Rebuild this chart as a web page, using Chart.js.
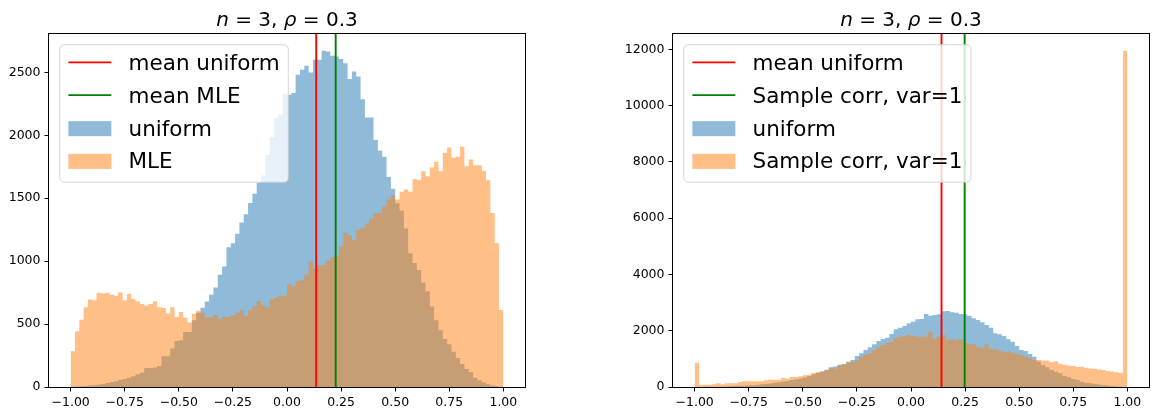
<!DOCTYPE html>
<html>
<head>
<meta charset="utf-8">
<script src="https://cdn.jsdelivr.net/npm/chart.js@4.4.1/dist/chart.umd.min.js"></script>
<style>
  html, body { margin: 0; padding: 0; background: #ffffff; }
  #wrap { position: relative; width: 1154px; height: 414px; overflow: hidden; }
  canvas { position: absolute; top: 0; }
  #histLeft { left: 0; }
  #histRight { left: 577px; }
</style>
</head>
<body>
<div id="wrap">
  <canvas id="histLeft" width="577" height="414"></canvas>
  <canvas id="histRight" width="577" height="414"></canvas>
</div>
<script>
// Histogram binning: 100 bins of width 0.02 on [-1, 1]
const binStart = -1;
const binWidth = 0.02;

// Axis ticks
const xTicks = [-1, -0.75, -0.5, -0.25, 0, 0.25, 0.5, 0.75, 1];
const yTicksLeft = [0, 500, 1000, 1500, 2000, 2500];
const yTicksRight = [0, 2000, 4000, 6000, 8000, 10000, 12000];

// Left panel: counts per bin
const uniformLeft = [
  2, 3, 5, 8, 11, 13, 19, 24, 32, 40,
  45, 58, 64, 74, 85, 101, 114, 151, 151, 154,
  167, 244, 244, 305, 366, 371, 437, 437, 530, 590,
  630, 679, 732, 790, 891, 957, 1111, 1143, 1217, 1307,
  1373, 1461, 1535, 1625, 1681, 1845, 1986, 2137, 2163, 2330,
  2322, 2336, 2480, 2520, 2552, 2499, 2600, 2600, 2671, 2666,
  2631, 2626, 2605, 2573, 2448, 2507, 2467, 2286, 2142, 2142,
  1962, 1877, 1829, 1669, 1576, 1460, 1400, 1260, 1062, 985,
  930, 830, 760, 640, 530, 450, 382, 340, 280, 230,
  183, 143, 117, 73, 53, 35, 21, 12, 6, 2
];
const mleLeft = [
  285, 443, 535, 634, 695, 689, 748, 742, 748, 732,
  724, 750, 689, 740, 700, 682, 660, 647, 660, 682,
  634, 628, 583, 634, 557, 596, 551, 512, 581, 605,
  591, 551, 557, 573, 538, 557, 557, 573, 589, 610,
  562, 610, 642, 684, 650, 631, 697, 710, 724, 724,
  817, 803, 843, 848, 896, 997, 938, 965, 970, 1005,
  1031, 1037, 1121, 1225, 1206, 1166, 1246, 1265, 1299, 1339,
  1379, 1384, 1437, 1490, 1524, 1490, 1551, 1569, 1551, 1652,
  1644, 1715, 1675, 1744, 1789, 1715, 1861, 1903, 1821, 1829,
  1908, 1754, 1807, 1762, 1762, 1717, 1643, 1382, 1143, 611
];
const meansLeft = [0.135, 0.225];
const labelsLeft = ['mean uniform', 'mean MLE', 'uniform', 'MLE'];

// Right panel: counts per bin
const uniformRight = [
  2, 3, 5, 7, 10, 12, 18, 22, 28, 33,
  40, 44, 50, 65, 80, 95, 110, 125, 150, 170,
  195, 215, 245, 275, 300, 335, 390, 450, 500, 560,
  610, 699, 730, 790, 818, 900, 960, 1102, 1197, 1315,
  1410, 1517, 1635, 1706, 1754, 1884, 2050, 2109, 2169, 2263,
  2323, 2406, 2417, 2595, 2536, 2560, 2583, 2690, 2700, 2654,
  2643, 2595, 2583, 2536, 2441, 2382, 2299, 2204, 2109, 1908,
  1872, 1813, 1695, 1612, 1458, 1315, 1280, 1173, 1078, 901,
  782, 699, 604, 545, 486, 391, 344, 284, 249, 190,
  154, 130, 107, 85, 65, 50, 35, 22, 10, 3
];
const sampleCorrRight = [
  860, 71, 83, 83, 95, 130, 95, 130, 130, 130,
  178, 201, 201, 201, 201, 201, 237, 261, 261, 261,
  332, 296, 355, 355, 379, 415, 438, 498, 533, 533,
  593, 675, 652, 770, 806, 853, 889, 960, 1078, 1150,
  1197, 1315, 1410, 1493, 1560, 1600, 1754, 1789, 1813, 1849,
  1813, 1789, 1789, 1789, 1967, 1730, 1789, 1849, 1671, 1695,
  1671, 1695, 1552, 1529, 1529, 1434, 1375, 1517, 1339, 1339,
  1292, 1256, 1256, 1221, 1173, 1138, 1078, 1019, 960, 960,
  940, 940, 880, 910, 830, 795, 760, 747, 715, 720,
  680, 660, 650, 620, 600, 570, 550, 520, 500, 11950
];
const meansRight = [0.141, 0.248];
const labelsRight = ['mean uniform', 'Sample corr, var=1', 'uniform', 'Sample corr, var=1'];

// Colours
const BLUE_FILL = 'rgba(31,119,180,0.5)';
const ORANGE_FILL = 'rgba(255,127,14,0.5)';
const RED = '#ff0000';
const GREEN = '#008000';
const FONT = "'DejaVu Sans', sans-serif";

Chart.defaults.font.family = FONT;

// Step outline of a histogram: one point per bin left edge, plus the closing right edge
function stepPoints(counts) {
  const pts = counts.map((c, i) => ({ x: binStart + i * binWidth, y: c }));
  pts.push({ x: binStart + counts.length * binWidth, y: counts[counts.length - 1] });
  return pts;
}

function fmtX(v) {
  const s = Math.abs(v).toFixed(2);
  return v < 0 ? '\u2212' + s : s;
}

// Black box around the plotting area
const framePlugin = {
  id: 'frame',
  afterDatasetsDraw(chart) {
    const { ctx, chartArea: a } = chart;
    ctx.save();
    ctx.strokeStyle = '#000';
    ctx.lineWidth = 1;
    const l = Math.round(a.left) - 0.5, t = Math.round(a.top) - 0.5;
    const r = Math.round(a.right) + 0.5, b = Math.round(a.bottom) + 0.5;
    ctx.strokeRect(l, t, r - l, b - t);
    ctx.restore();
  }
};

// Title with italic symbols: n = 3, rho = 0.3
const titlePlugin = {
  id: 'mathTitle',
  afterDraw(chart, args, o) {
    const { ctx, chartArea: a } = chart;
    const parts = o.parts;
    ctx.save();
    ctx.fillStyle = '#000';
    ctx.textBaseline = 'alphabetic';
    ctx.textAlign = 'left';
    let total = 0;
    const widths = parts.map(p => {
      ctx.font = (p.italic ? 'oblique ' : '') + o.size + 'px ' + FONT;
      const w = ctx.measureText(p.text).width;
      total += w;
      return w;
    });
    let x = (a.left + a.right) / 2 - total / 2;
    const y = a.top - o.gap;
    parts.forEach((p, i) => {
      ctx.font = (p.italic ? 'oblique ' : '') + o.size + 'px ' + FONT;
      ctx.fillText(p.text, x, y);
      x += widths[i];
    });
    ctx.restore();
  }
};

// Framed legend in the upper-left corner of the plotting area
const boxLegendPlugin = {
  id: 'boxLegend',
  afterDraw(chart, args, o) {
    const { ctx, chartArea: a } = chart;
    const fs = o.fontSize;
    const pad = 0.4 * fs, hl = 2.0 * fs, htp = 0.8 * fs, sp = 0.5 * fs, rowH = o.rowHeight;
    const items = chart.data.datasets.map(d => ({ label: d.label, kind: d.legendKind, color: d.legendColor }));
    ctx.save();
    ctx.font = fs + 'px ' + FONT;
    const textW = Math.max(...items.map(it => ctx.measureText(it.label).width));
    const w = pad + hl + htp + textW + pad;
    const h = 2 * pad + items.length * rowH + (items.length - 1) * sp;
    const x0 = a.left + 0.5 * fs, y0 = a.top + 0.5 * fs;
    const rad = 0.2 * fs;
    ctx.beginPath();
    ctx.roundRect(x0, y0, w, h, rad);
    ctx.fillStyle = 'rgba(255,255,255,0.8)';
    ctx.fill();
    ctx.lineWidth = 1;
    ctx.strokeStyle = 'rgba(204,204,204,0.8)';
    ctx.stroke();
    items.forEach((it, k) => {
      const cy = y0 + pad + 9 + k * (rowH + sp);
      const hx = x0 + pad;
      if (it.kind === 'line') {
        ctx.beginPath();
        ctx.moveTo(hx, cy);
        ctx.lineTo(hx + hl, cy);
        ctx.strokeStyle = it.color;
        ctx.lineWidth = 1.9;
        ctx.stroke();
      } else {
        ctx.fillStyle = it.color;
        ctx.fillRect(hx, cy - 6.7, hl, 0.7 * fs);
      }
      ctx.fillStyle = '#000';
      ctx.textBaseline = 'alphabetic';
      ctx.textAlign = 'left';
      ctx.fillText(it.label, hx + hl + htp, cy + 7.7);
    });
    ctx.restore();
  }
};

function makeHistogram(canvasId, cfg) {
  const yMax = 1.05 * Math.max(...cfg.blue, ...cfg.orange);
  const tickFont = { family: FONT, size: 12.5 };
  const datasets = [
    {
      label: cfg.labels[0], legendKind: 'line', legendColor: RED, order: 0,
      data: [{ x: cfg.means[0], y: 0 }, { x: cfg.means[0], y: yMax }],
      borderColor: RED, borderWidth: 1.9, pointRadius: 0, fill: false
    },
    {
      label: cfg.labels[1], legendKind: 'line', legendColor: GREEN, order: 1,
      data: [{ x: cfg.means[1], y: 0 }, { x: cfg.means[1], y: yMax }],
      borderColor: GREEN, borderWidth: 1.9, pointRadius: 0, fill: false
    },
    {
      label: cfg.labels[2], legendKind: 'patch', legendColor: BLUE_FILL, order: 3,
      data: stepPoints(cfg.blue), stepped: true,
      backgroundColor: BLUE_FILL, borderColor: 'rgba(0,0,0,0)', borderWidth: 0,
      pointRadius: 0, fill: 'origin'
    },
    {
      label: cfg.labels[3], legendKind: 'patch', legendColor: ORANGE_FILL, order: 2,
      data: stepPoints(cfg.orange), stepped: true,
      backgroundColor: ORANGE_FILL, borderColor: 'rgba(0,0,0,0)', borderWidth: 0,
      pointRadius: 0, fill: 'origin'
    }
  ];
  return new Chart(document.getElementById(canvasId), {
    type: 'line',
    data: { datasets },
    plugins: [framePlugin, titlePlugin, boxLegendPlugin],
    options: {
      responsive: false,
      animation: false,
      devicePixelRatio: 1,
      events: [],
      layout: { padding: { left: cfg.padLeft, right: cfg.padRight, top: 34, bottom: 0 } },
      plugins: {
        legend: { display: false },
        tooltip: { enabled: false },
        mathTitle: {
          size: 20, gap: 8,
          parts: [
            { text: 'n', italic: true },
            { text: ' = 3, ', italic: false },
            { text: '\u03c1', italic: true },
            { text: ' = 0.3', italic: false }
          ]
        },
        boxLegend: { fontSize: 21.5, rowHeight: 22 }
      },
      scales: {
        x: {
          type: 'linear', min: -1.1, max: 1.1,
          afterBuildTicks: s => { s.ticks = xTicks.map(v => ({ value: v })); },
          afterFit: s => { s.height = 27; },
          ticks: { callback: v => fmtX(v), font: tickFont, color: '#000', padding: 4, maxRotation: 0, autoSkip: false },
          grid: { drawOnChartArea: false, drawTicks: true, tickLength: 4.5, tickColor: '#000', tickWidth: 1 },
          border: { display: false }
        },
        y: {
          type: 'linear', min: 0, max: yMax,
          afterBuildTicks: s => { s.ticks = cfg.yTicks.map(v => ({ value: v })); },
          afterFit: s => { s.width = cfg.yWidth; },
          ticks: { callback: v => String(v), font: tickFont, color: '#000', padding: 4, autoSkip: false },
          grid: { drawOnChartArea: false, drawTicks: true, tickLength: 4.5, tickColor: '#000', tickWidth: 1 },
          border: { display: false }
        }
      }
    }
  });
}

makeHistogram('histLeft', {
  blue: uniformLeft, orange: mleLeft, means: meansLeft, labels: labelsLeft,
  yTicks: yTicksLeft, padLeft: 0, yWidth: 49, padRight: 52
});
makeHistogram('histRight', {
  blue: uniformRight, orange: sampleCorrRight, means: meansRight, labels: labelsRight,
  yTicks: yTicksRight, padLeft: 36, yWidth: 60, padRight: 5
});
</script>
</body>
</html>
